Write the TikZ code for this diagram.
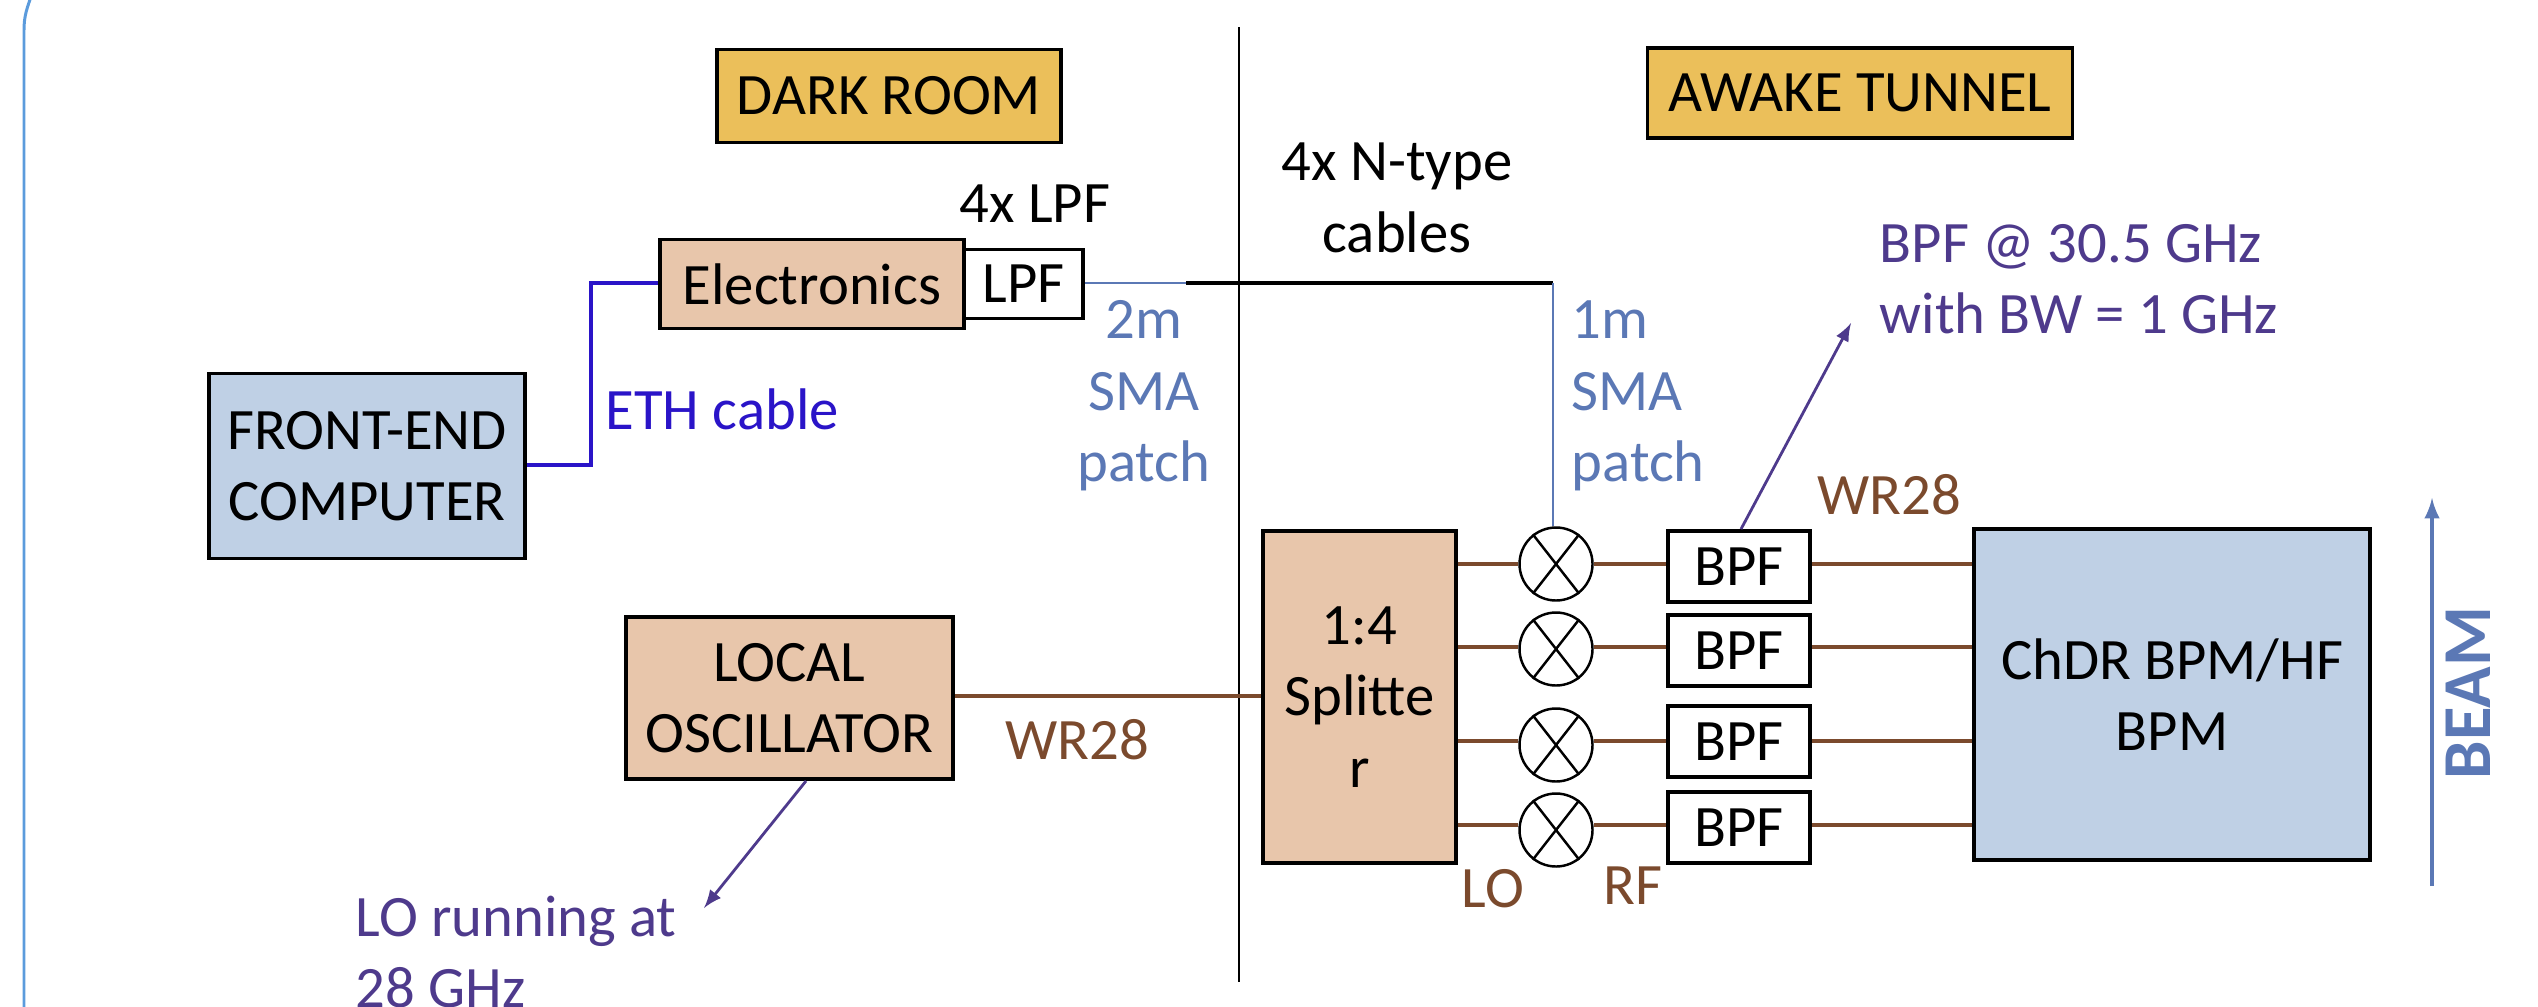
\documentclass[tikz,border=0pt]{standalone}
\usepackage{fontspec}
\setmainfont{Carlito}
\definecolor{peach}{HTML}{E8C6AB}
\definecolor{steel}{HTML}{BFD0E5}
\definecolor{amber}{HTML}{EBBF5A}
\definecolor{wrbrown}{HTML}{7B4A2D}
\definecolor{notepurple}{HTML}{4E3A8C}
\definecolor{smablue}{HTML}{5B78B5}
\definecolor{ethblue}{HTML}{2A14C8}
\definecolor{framblue}{HTML}{5B9BDC}
\tikzset{
  unit/.style={draw,line width=1.1pt,align=center,inner sep=0pt,font=\fontsize{16.7}{20.3}\selectfont},
  wrline/.style={wrbrown,line width=1.1pt},
  lbl/.style={inner sep=0pt,align=center,font=\fontsize{16.7}{20.3}\selectfont},
  note/.style={lbl,notepurple,align=left},
  sma/.style={lbl,smablue},
  wr/.style={lbl,wrbrown},
  mixer/.style={draw,circle,line width=0.7pt,minimum size=0.73cm,inner sep=0pt}
}
\begin{document}
\begin{tikzpicture}
\useasboundingbox (0,0) rectangle (25.38,10.06);
\draw[framblue,line width=0.85pt] (0.24,-0.1) -- (0.24,9.76) .. controls (0.24,9.9) and (0.27,9.98) .. (0.32,10.12);
\draw[line width=0.6pt] (12.39,9.79) coordinate (top) -- (12.39,0.24) coordinate (bottom);

\node[unit,fill=amber,minimum width=3.44cm,minimum height=0.93cm] (darkroom) at (8.89,9.10) {DARK ROOM};
\node[unit,fill=amber,minimum width=4.25cm,minimum height=0.90cm] (tunnel) at (18.60,9.13) {AWAKE TUNNEL};
\node[unit,fill=peach,minimum width=3.04cm,minimum height=0.89cm] (electronics) at (8.12,7.22) {Electronics};
\node[unit,minimum width=1.19cm,minimum height=0.69cm] (lpf) at (10.235,7.22) {LPF};
\node[unit,fill=steel,minimum width=3.16cm,minimum height=1.85cm] (frontend) at (3.67,5.40) {FRONT-END\\COMPUTER};
\node[unit,fill=peach,minimum width=3.27cm,minimum height=1.62cm] (oscillator) at (7.895,3.08) {LOCAL\\OSCILLATOR};
\node[unit,fill=peach,minimum width=1.93cm,minimum height=3.32cm] (splitter) at (13.595,3.09) {1:4\\Splitte\\r};
\node[unit,fill=steel,minimum width=3.96cm,minimum height=3.31cm] (chdr) at (21.72,3.115) {ChDR BPM/HF\\BPM};

\foreach \n/\ym/\yb/\yl in {
  1/4.42/4.395/4.42,
  2/3.57/3.555/3.59,
  3/2.61/2.645/2.65,
  4/1.76/1.785/1.81%
}
{
  \coordinate (c\n) at (15,\yl);
  \node[mixer] (m\n) at (15.56,\ym) {};
  \draw[line width=0.7pt] (m\n.52) -- (m\n.232) (m\n.128) -- (m\n.308);
  \node[unit,minimum width=1.42cm,minimum height=0.71cm] (bpf\n) at (17.39,\yb) {BPF};
  \draw[wrline] (splitter.east |- c\n) -- (m\n.west |- c\n);
  \draw[wrline] (m\n.east |- c\n) -- (bpf\n.west |- c\n);
  \draw[wrline] (bpf\n.east |- c\n) -- (chdr.west |- c\n);
}

\draw[wrline] (oscillator.east |- 0,3.10) -- (splitter.west |- 0,3.10);
\draw[ethblue,line width=1.1pt] (frontend.east |- 0,5.41) -| (5.91,7.23) -- (electronics.west |- 0,7.23);
\coordinate (joint) at (11.86,7.23);
\coordinate (corner) at (15.53,7.23);
\draw[smablue,line width=0.6pt] (lpf.east |- joint) -- (joint);
\draw[line width=1.2pt] (joint) -- (corner);
\draw[smablue,line width=0.6pt] (corner) -- (corner |- m1.north);

\node[lbl] (lpfcount) at (10.35,8.02) {4x LPF};
\node[lbl] (cables) at (13.97,8.08) {4x N-type\\cables};
\node[sma] (sma2) at (11.44,6.10) {2m\\SMA\\patch};
\node[sma,anchor=west,align=left] (sma1) at (15.71,6.10) {1m\\SMA\\patch};
\node[lbl,text=ethblue,anchor=west] (eth) at (6.05,5.97) {ETH cable};
\node[wr] (wr1) at (18.89,5.11) {WR28};
\node[wr] (wr2) at (10.77,2.66) {WR28};
\node[wr] (lo) at (14.93,1.17) {LO};
\node[wr] (rf) at (16.33,1.2) {RF};
\node[note,anchor=west] (bpfnote) at (18.79,7.27) {BPF @ 30.5 GHz\\with BW = 1 GHz};
\node[note,anchor=west] (lonote) at (3.55,0.54) {LO running at\\28 GHz};
\draw[notepurple,line width=0.8pt,-latex] (bpf1.north) ++(0.02,0) coordinate (bpftail) -- (18.51,6.83) coordinate (bpfhead);
\draw[notepurple,line width=0.8pt,-latex] (oscillator.south) ++(0.165,0) coordinate (lotail) -- (7.04,0.98) coordinate (lohead);
\coordinate (beamtail) at (24.32,1.2);
\coordinate (beamhead) at (24.32,5.08);
\draw[smablue,line width=1pt,-latex] (beamtail) -- (beamhead);
\node[lbl,text=smablue,rotate=90,font=\fontsize{19.5}{22}\bfseries\selectfont] (beam) at (24.68,3.13) {BEAM};
\end{tikzpicture}
\end{document}
